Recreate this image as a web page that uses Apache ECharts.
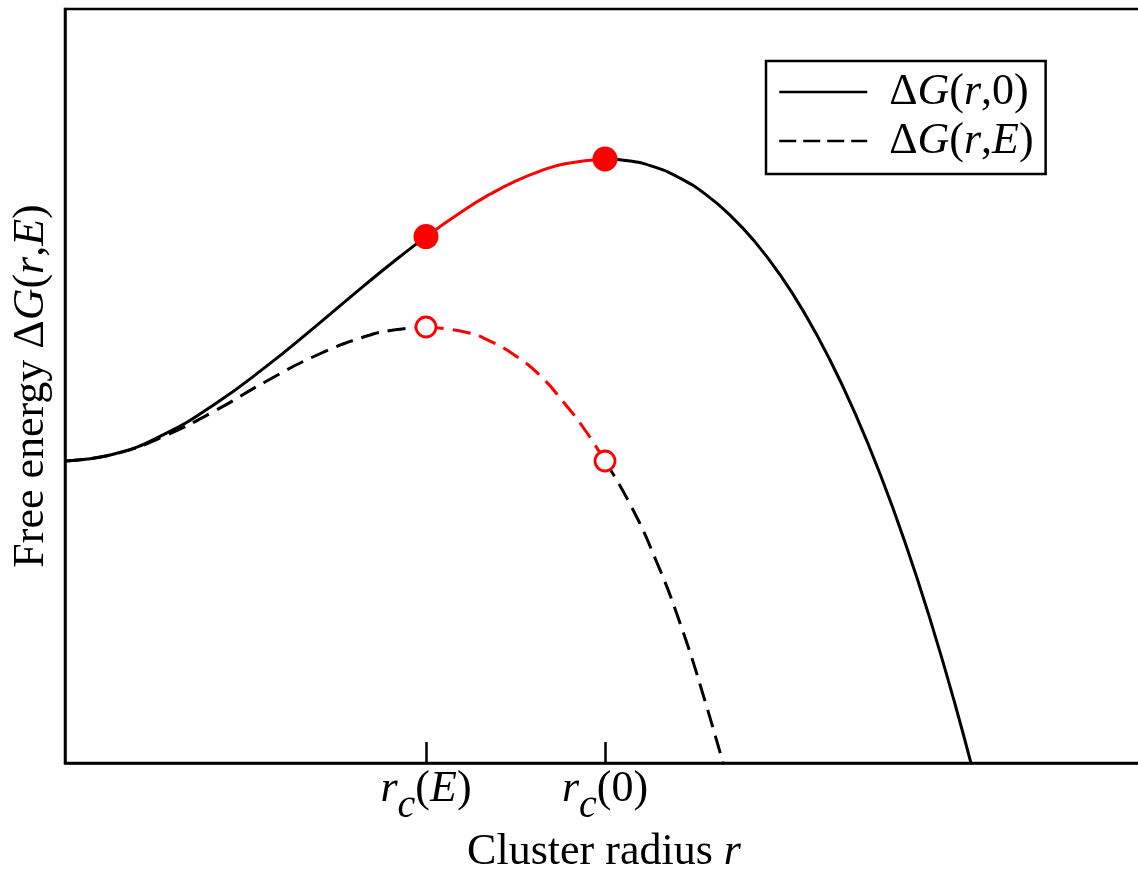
<!DOCTYPE html>
<html>
<head>
<meta charset="utf-8">
<script src="https://cdn.jsdelivr.net/npm/echarts@6/dist/echarts.min.js"></script>
<style>html,body{margin:0;padding:0;background:#fff}#c{width:1138px;height:873px}</style>
</head>
<body>
<div id="c"></div>
<script>
// ---- data (arbitrary units) ----
const rcE = 3.61;           // critical radius with field
const rc0 = 5.40;           // critical radius without field
const legendNames = ['ΔG(r,0)', 'ΔG(r,E)'];
const tickValues = [rcE, rc0];
const tickLabels = ['{i|r}{s|c}{n|(}{i|E}{n|)}', '{i|r}{s|c}{n|(0)}'];

// ΔG(r,0) : solid curve
const r0Left  = [0, 0.5, 1.0, 1.5, 2.0, 2.5, 3.0, 3.3, 3.61];
const g0Left  = [3.02, 3.093, 3.292, 3.590, 3.956, 4.362, 4.781, 5.025, 5.264];
const r0Mid   = [3.61, 4.0, 4.25, 4.5, 4.75, 5.0, 5.4];
const g0Mid   = [5.264, 5.536, 5.687, 5.816, 5.919, 5.993, 6.04];
const r0Right = [5.4, 5.65, 5.9, 6.15, 6.4, 6.65, 6.9, 7.15, 7.4, 7.65, 7.9, 8.15, 8.4, 8.65, 8.9, 9.15];
const g0Right = [6.04, 6.020, 5.958, 5.849, 5.691, 5.479, 5.211, 4.883, 4.490, 4.030, 3.498, 2.892, 2.208, 1.441, 0.590, -0.351];

// ΔG(r,E) : dashed curve
const rELeft  = [0, 0.5, 1.0, 1.5, 2.0, 2.5, 3.0, 3.3, 3.61];
const gELeft  = [3.02, 3.090, 3.272, 3.522, 3.810, 4.070, 4.265, 4.332, 4.36];
const rEMid   = [3.61, 4.0, 4.25, 4.5, 4.75, 5.0, 5.2, 5.4];
const gEMid   = [4.36, 4.310, 4.219, 4.076, 3.875, 3.590, 3.33, 3.02];
const rERight = [5.4, 5.65, 5.9, 6.15, 6.4, 6.65];
const gERight = [3.02, 2.59, 2.05, 1.40, 0.62, -0.25];

// critical points
const filledPts = [[rcE, 5.264], [rc0, 6.04]];
const hollowPts = [[rcE, 4.36], [rc0, 3.02]];

// ---- build ----
const zip = (a, b) => a.map((v, i) => [v, b[i]]);
const FONT = 'Liberation Serif';
const FS = 44;
const rich = {
  n: {fontFamily: FONT, fontSize: FS, color: '#000', lineHeight: 44, verticalAlign: 'top'},
  i: {fontFamily: FONT, fontSize: FS, fontStyle: 'italic', color: '#000', lineHeight: 44, verticalAlign: 'top'},
  s: {fontFamily: FONT, fontSize: 40, fontStyle: 'italic', color: '#000', lineHeight: 44, padding: [19, 0, 0, 0], verticalAlign: 'top'}
};
const richPlain = {
  n: {fontFamily: FONT, fontSize: FS, color: '#000'},
  i: {fontFamily: FONT, fontSize: FS, fontStyle: 'italic', color: '#000'}
};
const DASH = [18, 9];
const LW = 3;

const chart = echarts.init(document.getElementById('c'), null, {renderer: 'canvas'});
chart.setOption({
  backgroundColor: '#fff',
  animation: false,
  grid: {left: 65, top: 9, width: 1100, height: 754, show: true, borderColor: '#000', borderWidth: 2.5,
         backgroundColor: 'transparent', containLabel: false, outerBoundsMode: 'none'},
  legend: {
    data: [
      {name: legendNames[0], lineStyle: {type: 'solid', width: 2.5, color: '#000'}},
      {name: legendNames[1], lineStyle: {type: [17, 7], width: 2.5, color: '#000'}}
    ],
    orient: 'vertical',
    left: 766, top: 61,
    padding: [9, 12, 11, 12],
    itemGap: 5,
    itemWidth: 88, itemHeight: 14,
    itemStyle: {opacity: 0},
    borderColor: '#000', borderWidth: 2.5,
    backgroundColor: '#fff',
    textStyle: {fontFamily: FONT, fontSize: FS, color: '#000', padding: [0, 0, 0, 17], rich: richPlain},
    formatter: function (name) {
      return name === legendNames[0]
        ? '{n|Δ}{i|G}{n|(}{i|r}{n|,0)}'
        : '{n|Δ}{i|G}{n|(}{i|r}{n|,}{i|E}{n|)}';
    }
  },
  xAxis: {
    type: 'value', min: 0, max: 11,
    name: 'Cluster radius {i|r}',
    nameLocation: 'middle', nameGap: 64,
    nameTextStyle: {fontFamily: FONT, fontSize: FS, color: '#000', lineHeight: 44, padding: [0, 22, 0, 0], rich: richPlain},
    axisLine: {show: true, onZero: false, lineStyle: {color: '#000', width: 2.5}},
    axisTick: {show: true, inside: true, length: 21, customValues: tickValues, lineStyle: {color: '#000', width: 2.5}},
    axisLabel: {
      show: true, margin: 4, customValues: tickValues, rich: rich,
      formatter: function (v) { return Math.abs(v - rcE) < 1e-6 ? tickLabels[0] : tickLabels[1]; }
    },
    splitLine: {show: false}
  },
  yAxis: {
    type: 'value', min: 0, max: 7.54,
    name: 'Free energy Δ{i|G}({i|r},{i|E})',
    nameLocation: 'middle', nameGap: 12, nameRotate: 90,
    nameTextStyle: {fontFamily: FONT, fontSize: FS, color: '#000', lineHeight: 44, rich: richPlain},
    axisLine: {show: true, onZero: false, lineStyle: {color: '#000', width: 2.5}},
    axisTick: {show: false}, axisLabel: {show: false}, splitLine: {show: false}
  },
  series: [
    {
      name: legendNames[0], type: 'line', smooth: 0.5, symbol: 'none', showSymbol: false,
      connectNulls: false, clip: true,
      lineStyle: {color: '#000', width: LW, type: 'solid'}, itemStyle: {color: '#000'},
      data: zip(r0Left, g0Left).concat([null]).concat(zip(r0Right, g0Right)), z: 2
    },
    {
      name: legendNames[1], type: 'line', smooth: 0.5, symbol: 'none', showSymbol: false,
      connectNulls: false, clip: true,
      lineStyle: {color: '#000', width: LW, type: DASH}, itemStyle: {color: '#000'},
      data: zip(rELeft, gELeft).concat([null]).concat(zip(rERight, gERight)), z: 2
    },
    {
      type: 'line', smooth: 0.5, symbol: 'none', showSymbol: false, clip: true,
      lineStyle: {color: '#ff0000', width: LW, type: 'solid'}, itemStyle: {color: '#ff0000'},
      data: zip(r0Mid, g0Mid), z: 3
    },
    {
      type: 'line', smooth: 0.5, symbol: 'none', showSymbol: false, clip: true,
      lineStyle: {color: '#ff0000', width: LW, type: DASH}, itemStyle: {color: '#ff0000'},
      data: zip(rEMid, gEMid), z: 3
    },
    {
      type: 'scatter', symbol: 'circle', symbolSize: 25,
      itemStyle: {color: '#ff0000', opacity: 1}, data: filledPts, z: 5
    },
    {
      type: 'scatter', symbol: 'circle', symbolSize: 20,
      itemStyle: {color: '#fff', borderColor: '#ff0000', borderWidth: 2.8, opacity: 1}, data: hollowPts, z: 5
    }
  ]
});
</script>
</body>
</html>
